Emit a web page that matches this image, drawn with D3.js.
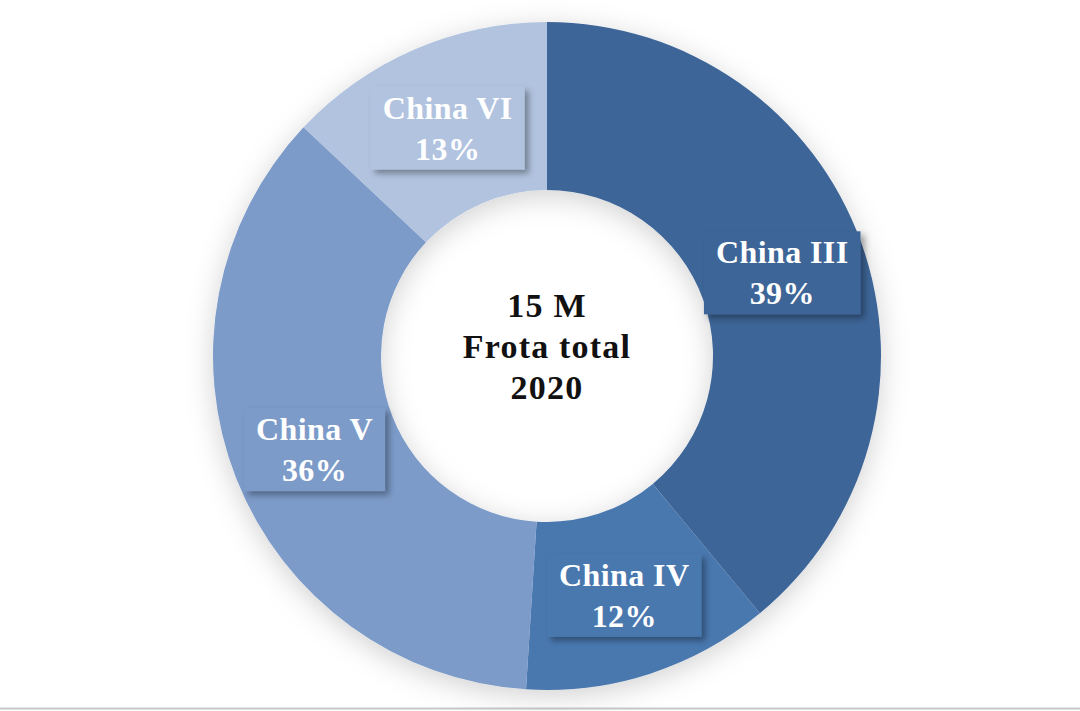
<!DOCTYPE html>
<html>
<head>
<meta charset="utf-8">
<script src="https://cdn.jsdelivr.net/npm/d3@7"></script>
<style>
  html, body { margin: 0; padding: 0; background: #fff; }
  svg { display: block; }
</style>
</head>
<body>
<div id="chart"></div>
<script>
// data
const categories = ['China III', 'China IV', 'China V', 'China VI'];
const shares = [39, 12, 36, 13];
const colors = ['#3d6597', '#4a78af', '#7c9bc9', '#b1c3df'];
const centerLines = ['15 M', 'Frota total', '2020'];

const width = 1080;
const height = 711;
const cx = 547, cy = 356;
const outerR = 334, innerR = 166;
const font = "'Liberation Serif', 'DejaVu Serif', serif";

const svg = d3.select('#chart').append('svg')
    .attr('width', width)
    .attr('height', height);

const defs = svg.append('defs');

const ringShadow = defs.append('filter').attr('id', 'ring-shadow')
    .attr('x', '-20%').attr('y', '-20%').attr('width', '140%').attr('height', '140%');
ringShadow.append('feDropShadow')
    .attr('dx', 0).attr('dy', 6).attr('stdDeviation', 14)
    .attr('flood-color', '#000').attr('flood-opacity', 0.18);

const boxShadow = defs.append('filter').attr('id', 'box-shadow')
    .attr('x', '-20%').attr('y', '-20%').attr('width', '150%').attr('height', '150%');
boxShadow.append('feDropShadow')
    .attr('dx', 4).attr('dy', 4).attr('stdDeviation', 3)
    .attr('flood-color', '#000').attr('flood-opacity', 0.35);

// bottom rule
svg.append('line')
    .attr('x1', 0).attr('x2', width)
    .attr('y1', 708.5).attr('y2', 708.5)
    .attr('stroke', '#c8c8c8').attr('stroke-width', 2);

const data = categories.map((c, i) => ({ name: c, value: shares[i], color: colors[i] }));

const pie = d3.pie().value(d => d.value).sort(null);
const arc = d3.arc().innerRadius(innerR).outerRadius(outerR);
const arcs = pie(data);

const g = svg.append('g').attr('transform', `translate(${cx},${cy})`);

g.append('g').attr('filter', 'url(#ring-shadow)')
    .selectAll('path')
    .data(arcs)
    .enter()
    .append('path')
    .attr('d', arc)
    .attr('fill', d => d.data.color);

// labels in boxes at arc centroids
const labels = g.selectAll('.label')
    .data(arcs)
    .enter()
    .append('g')
    .attr('class', 'label')
    .attr('transform', d => {
        const [x, y] = arc.centroid(d);
        return `translate(${x},${y})`;
    });

labels.each(function (d) {
    const sel = d3.select(this);
    const rect = sel.append('rect').attr('fill', d.data.color).attr('filter', 'url(#box-shadow)');
    const t = sel.append('text')
        .attr('text-anchor', 'middle')
        .style('font-family', font)
        .style('font-weight', '700')
        .style('font-size', '32px')
        .style('letter-spacing', '0.4px')
        .style('fill', '#fff');
    t.append('tspan').attr('x', 0).attr('y', -8).text(d.data.name);
    t.append('tspan').attr('x', 0).attr('y', 33).text(d.data.value + '%');
    const bb = t.node().getBBox();
    const padX = 12, padY = 3;
    rect.attr('x', bb.x - padX).attr('y', bb.y - padY)
        .attr('width', bb.width + padX * 2).attr('height', bb.height + padY * 2);
});

// centre text
g.append('text')
    .attr('text-anchor', 'middle')
    .style('font-family', font)
    .style('font-weight', '700')
    .style('font-size', '34px')
    .style('letter-spacing', '1.2px')
    .style('fill', '#111')
    .selectAll('tspan')
    .data(centerLines)
    .enter()
    .append('tspan')
    .attr('x', 0)
    .attr('y', (d, i) => -39 + i * 41)
    .text(d => d);
</script>
</body>
</html>
